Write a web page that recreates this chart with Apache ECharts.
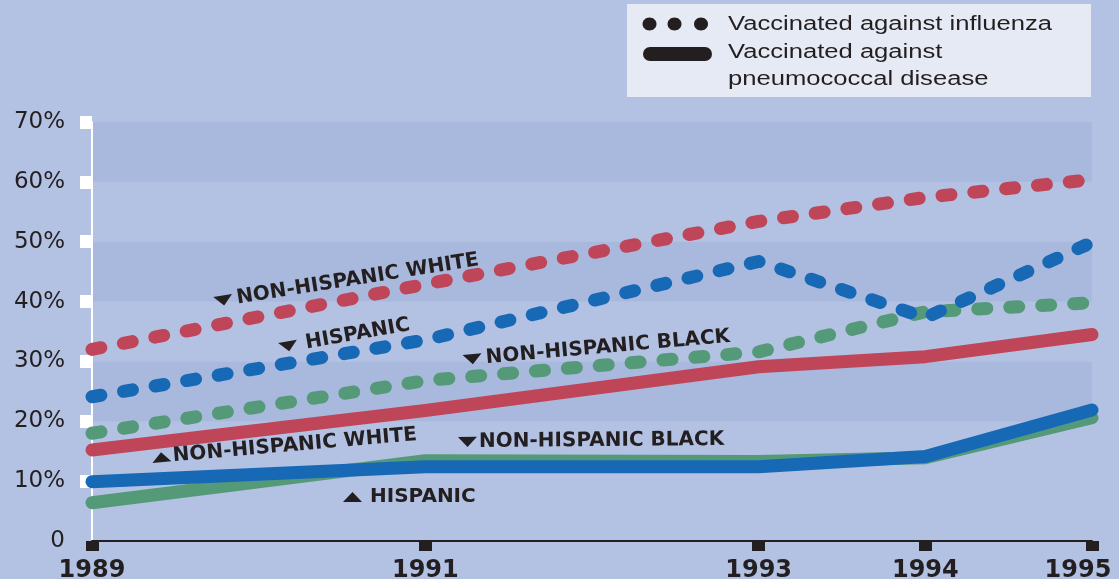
<!DOCTYPE html>
<html>
<head>
<meta charset="utf-8">
<script src="https://cdn.jsdelivr.net/npm/echarts@6/dist/echarts.min.js"></script>
<style>
  html, body { margin: 0; padding: 0; background: #b3c1e3; }
  #chart { width: 1119px; height: 579px; }
</style>
</head>
<body>
<div id="chart"></div>
<script>
// Survey years and vaccination rates (percent of adults 65+)
const years = [1989, 1991, 1993, 1994, 1995];
const yTicks = [10, 20, 30, 40, 50, 60, 70];

// Vaccinated against influenza
const fluWhite    = [32.0, 42.9, 53.4, 57.4, 60.4];
const fluHispanic = [24.1, 33.6, 46.7, 37.3, 49.9];
const fluBlack    = [18.0, 26.8, 31.6, 38.3, 39.8];

// Vaccinated against pneumococcal disease
const pneuWhite    = [15.2, 21.8, 29.1, 30.8, 34.5];
const pneuBlack    = [6.4, 13.4, 13.3, 13.9, 20.6];
const pneuHispanic = [9.9, 12.4, 12.4, 14.1, 21.9];

const legendItems = ['Vaccinated against influenza', 'Vaccinated against', 'pneumococcal disease'];

const RED = '#bf4659', BLUE = '#1769b5', GREEN = '#559a78', INK = '#231f20';

const pairs = vals => years.map((y, i) => [y, vals[i]]);

function solid(name, vals, color) {
  return {
    name, type: 'line', data: pairs(vals), symbol: 'none', silent: true,
    lineStyle: { color, width: 13, cap: 'round', join: 'round' }
  };
}
function dotted(name, vals, color) {
  return {
    name, type: 'line', data: pairs(vals), symbol: 'none', silent: true,
    lineStyle: { color, width: 13, type: [9, 23], cap: 'round', join: 'round' }
  };
}

// Slanted callout: a small triangle pointer followed by a label,
// both turned about the same anchor point
function callout(text, x, y, deg, up, gap) {
  const rot = deg * Math.PI / 180;
  const tri = up ? [[0, 5], [19, 5], [9.5, -5]] : [[0, -5], [19, -5], [9.5, 5]];
  const c = Math.cos(rot), s = Math.sin(rot);
  return [
    { type: 'polygon', x, y, rotation: rot, z: 100, silent: true,
      shape: { points: tri }, style: { fill: INK } },
    { type: 'text', x: x + gap * c, y: y - gap * s, rotation: rot, z: 100, silent: true,
      style: { text, fill: INK, font: 'bold 20px "DejaVu Sans", sans-serif',
               verticalAlign: 'middle', align: 'left' } }
  ];
}

const legendText = (text, y) => ({
  type: 'text', x: 728, y, scaleX: 1.28, silent: true,
  style: { text, fill: INK, font: '20px "Liberation Sans", Arial, sans-serif', verticalAlign: 'middle' }
});

const chart = echarts.init(document.getElementById('chart'), null, { renderer: 'canvas' });
chart.setOption({
  animation: false,
  backgroundColor: '#b3c1e3',
  grid: { left: 92, right: 27, top: 122, bottom: 38, containLabel: false, outerBoundsMode: 'none' },
  xAxis: {
    type: 'value', min: 1989, max: 1995,
    axisLine: { show: true, onZero: false, lineStyle: { color: INK, width: 2 } },
    axisTick: { show: true, customValues: years, length: 10, lineStyle: { color: INK, width: 13 } },
    axisLabel: {
      customValues: years, margin: 18,
      fontFamily: 'DejaVu Sans', fontWeight: 'bold', fontSize: 24, color: INK,
      formatter: v => v === 1995 ? '{r|' + v + '}' : String(v),
      rich: { r: { fontFamily: 'DejaVu Sans', fontWeight: 'bold', fontSize: 24, color: INK, padding: [0, 28, 0, 0] } }
    },
    splitLine: { show: false }
  },
  yAxis: {
    type: 'value', min: 0, max: 70, interval: 10,
    axisLine: { show: true, lineStyle: { color: '#ffffff', width: 2 } },
    axisTick: { show: true, customValues: yTicks, length: 12, lineStyle: { color: '#ffffff', width: 13 } },
    axisLabel: {
      margin: 27, fontFamily: 'DejaVu Sans', fontSize: 23, color: INK,
      formatter: v => v === 0 ? '0' : v + '%'
    },
    splitLine: { show: false },
    splitArea: { show: true, areaStyle: { color: ['#b3c1e3', '#a9b9de'] } }
  },
  series: [
    solid('Pneumococcal, non-Hispanic black', pneuBlack, GREEN),
    solid('Pneumococcal, Hispanic', pneuHispanic, BLUE),
    solid('Pneumococcal, non-Hispanic white', pneuWhite, RED),
    dotted('Influenza, non-Hispanic black', fluBlack, GREEN),
    dotted('Influenza, non-Hispanic white', fluWhite, RED),
    dotted('Influenza, Hispanic', fluHispanic, BLUE)
  ],
  graphic: [
    // legend box
    { type: 'rect', silent: true, shape: { x: 627, y: 4, width: 464, height: 93 }, style: { fill: '#e6eaf5' } },
    { type: 'ellipse', silent: true, shape: { cx: 649.5, cy: 24, rx: 7, ry: 6.5 }, style: { fill: INK } },
    { type: 'ellipse', silent: true, shape: { cx: 674.5, cy: 24, rx: 7, ry: 6.5 }, style: { fill: INK } },
    { type: 'ellipse', silent: true, shape: { cx: 701, cy: 24, rx: 7, ry: 6.5 }, style: { fill: INK } },
    { type: 'rect', silent: true, shape: { x: 643, y: 47, width: 69, height: 14, r: 7 }, style: { fill: INK } },
    legendText(legendItems[0], 24),
    legendText(legendItems[1], 52),
    legendText(legendItems[2], 79),
    // callouts for the influenza lines
    ...callout('NON-HISPANIC WHITE', 214, 302, 9, false, 23),
    ...callout('HISPANIC', 279, 348, 10, false, 27),
    ...callout('NON-HISPANIC BLACK', 463, 360, 5, false, 23),
    // callouts for the pneumococcal lines
    ...callout('NON-HISPANIC WHITE', 152, 458, 5, true, 21),
    ...callout('NON-HISPANIC BLACK', 458, 442, 0.5, false, 21),
    ...callout('HISPANIC', 343, 497, 0, true, 27)
  ]
});
</script>
</body>
</html>
